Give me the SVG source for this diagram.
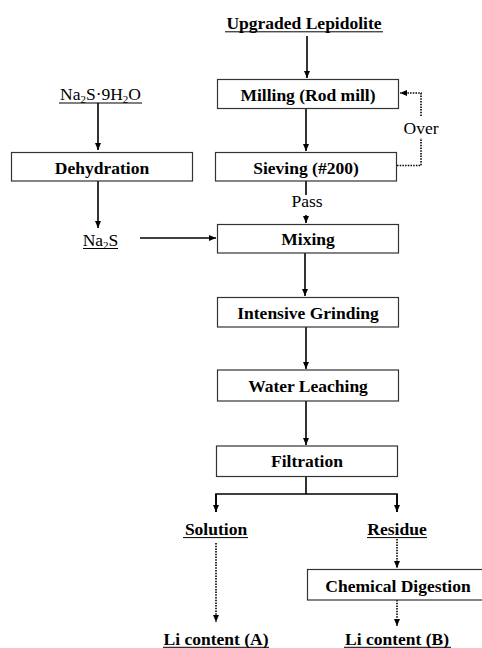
<svg xmlns="http://www.w3.org/2000/svg" width="482" height="648" viewBox="0 0 482 648">
<defs>
<marker id="ah" markerUnits="userSpaceOnUse" markerWidth="8" markerHeight="8" viewBox="0 0 8 8" refX="7" refY="4" orient="auto">
<path d="M0,1 L7,4 L0,7 z" fill="#000"/>
</marker>
<style>
.box{fill:#fff;stroke:#333;stroke-width:1.2}
.t{font-family:"Liberation Serif","Times New Roman",serif;font-size:17.5px;font-weight:bold;text-anchor:middle;fill:#000}
.r{font-family:"Liberation Serif","Times New Roman",serif;font-size:17.5px;text-anchor:middle;fill:#000}
.sub{font-size:11px}
.ln{fill:none;stroke:#000;stroke-width:1.6}
.dl{fill:none;stroke:#000;stroke-width:1.6;stroke-dasharray:1.5 1.2}
.ul{stroke:#000;stroke-width:1}
</style>
</defs>
<rect width="482" height="648" fill="#fff"/>
<g id="connectors">
<path class="ln" d="M307,36 V78" marker-end="url(#ah)"/>
<path class="ln" d="M306,108 V151" marker-end="url(#ah)"/>
<path class="dl" d="M397,165.5 H421 V138 M421,116 V93 H400" marker-end="url(#ah)"/>
<path class="ln" d="M306,181 V195 M306,215 V223" marker-end="url(#ah)"/>
<path class="ln" d="M98,103 V150" marker-end="url(#ah)"/>
<path class="ln" d="M98,181 V228" marker-end="url(#ah)"/>
<path class="ln" d="M140,238 H216" marker-end="url(#ah)"/>
<path class="ln" d="M305,253 V296" marker-end="url(#ah)"/>
<path class="ln" d="M306,327 V369" marker-end="url(#ah)"/>
<path class="ln" d="M306,401 V445" marker-end="url(#ah)"/>
<path class="ln" d="M306,477 V494 M216,512 V494 H397 V512"/>
<path class="ln" d="M216,494 V512" marker-end="url(#ah)"/>
<path class="ln" d="M397,494 V512" marker-end="url(#ah)"/>
<path class="dl" d="M216,543 V622" marker-end="url(#ah)"/>
<path class="dl" d="M397,539 V568" marker-end="url(#ah)"/>
<path class="dl" d="M397,600 V626" marker-end="url(#ah)"/>
<text class="r" x="421" y="134">Over</text>
<text class="r" x="307" y="207">Pass</text>
</g>
<g id="upgraded">
<text class="t" x="304" y="29">Upgraded Lepidolite</text>
<line class="ul" x1="225" y1="31.8" x2="383" y2="31.8"/>
</g>
<g id="milling">
<rect class="box" x="217.5" y="79.5" width="181" height="29"/>
<text class="t" x="308" y="101">Milling (Rod mill)</text>
</g>
<g id="sieving">
<rect class="box" x="215.5" y="152.5" width="181" height="28.5"/>
<text class="t" x="306" y="173.5">Sieving (#200)</text>
</g>
<g id="na2s9h2o">
<text class="r" x="100.5" y="100">Na<tspan class="sub" dy="3">2</tspan><tspan dy="-3">S·9H</tspan><tspan class="sub" dy="3">2</tspan><tspan dy="-3">O</tspan></text>
<line class="ul" x1="59" y1="103" x2="142" y2="103"/>
</g>
<g id="dehydration">
<rect class="box" x="11.5" y="152.5" width="181" height="28.5"/>
<text class="t" x="102" y="173.5">Dehydration</text>
</g>
<g id="na2s">
<text class="r" x="100.5" y="245.5">Na<tspan class="sub" dy="3">2</tspan><tspan dy="-3">S</tspan></text>
<line class="ul" x1="83" y1="248.5" x2="118" y2="248.5"/>
</g>
<g id="mixing">
<rect class="box" x="217.5" y="224.5" width="181" height="28.5"/>
<text class="t" x="308" y="245">Mixing</text>
</g>
<g id="grinding">
<rect class="box" x="217.5" y="297.5" width="181" height="29.5"/>
<text class="t" x="308" y="319">Intensive Grinding</text>
</g>
<g id="leaching">
<rect class="box" x="217.5" y="370" width="181" height="31"/>
<text class="t" x="308" y="392">Water Leaching</text>
</g>
<g id="filtration">
<rect class="box" x="216.5" y="446" width="181" height="30.5"/>
<text class="t" x="307" y="467">Filtration</text>
</g>
<g id="solution">
<text class="t" x="216" y="535">Solution</text>
<line class="ul" x1="183" y1="537.6" x2="248" y2="537.6"/>
</g>
<g id="residue">
<text class="t" x="397" y="535">Residue</text>
<line class="ul" x1="367" y1="537.6" x2="427" y2="537.6"/>
</g>
<g id="digestion">
<rect class="box" x="307.5" y="569.5" width="176" height="30.5"/>
<text class="t" x="398" y="592">Chemical Digestion</text>
</g>
<g id="liA">
<text class="t" x="216" y="645">Li content (A)</text>
<line class="ul" x1="163" y1="647.3" x2="269" y2="647.3"/>
</g>
<g id="liB">
<text class="t" x="397" y="645">Li content (B)</text>
<line class="ul" x1="344" y1="647.3" x2="451" y2="647.3"/>
</g>
</svg>
